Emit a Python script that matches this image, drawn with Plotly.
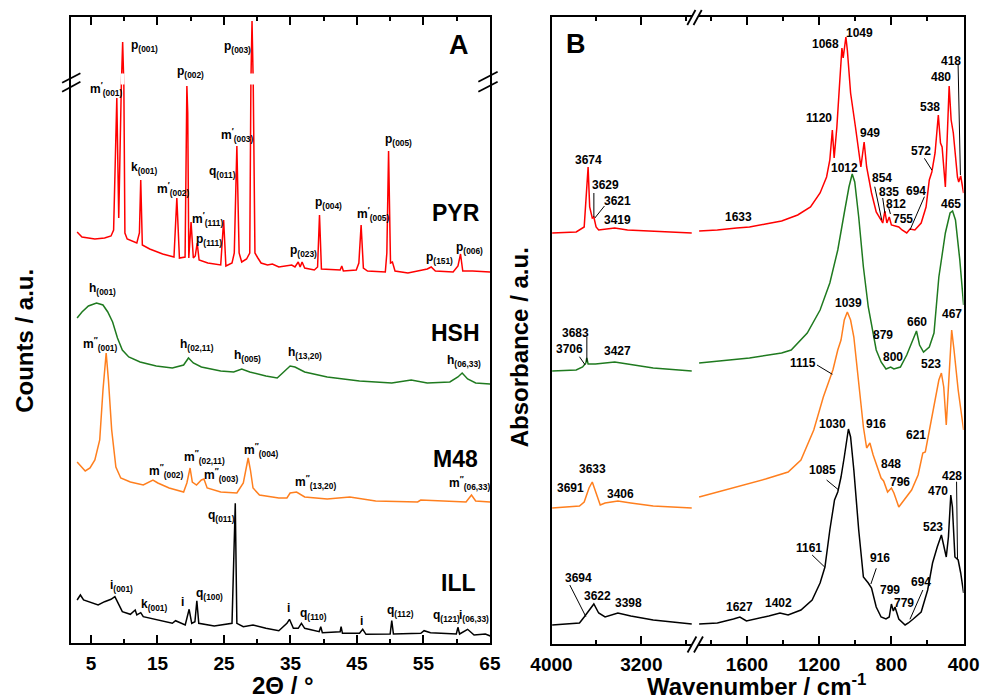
import plotly.graph_objects as go

# ---------------- DATA ----------------
# Panel A: XRD patterns (2theta in degrees, counts in a.u., stacked offsets included)
PYR_XRD = [(2.91, 411), (3.64, 406), (5.58, 404), (7.04, 405), (8.01, 407), (8.40, 413), (8.88, 545),
           (9.17, 425), (9.56, 557), (9.76, 601), (9.94, 557), (10.10, 410), (10.44, 404), (11.89, 400),
           (12.28, 410), (12.48, 463), (12.72, 398), (13.83, 394), (15.78, 389), (17.48, 386), (17.91, 445),
           (18.30, 385), (19.15, 386), (19.32, 530), (19.42, 557), (19.55, 530), (19.71, 385), (20.05, 421),
           (20.39, 385), (20.68, 387), (20.97, 400), (21.26, 383), (22.57, 380), (24.51, 378), (24.95, 423),
           (25.29, 377), (26.21, 380), (26.55, 390), (26.94, 497), (27.28, 390), (27.67, 381), (28.40, 384),
           (28.88, 390), (29.05, 560), (29.22, 622), (29.40, 560), (29.66, 390), (30.10, 385), (30.58, 380),
           (31.55, 378), (32.28, 379), (33.25, 376), (35.19, 378), (35.68, 376), (36.17, 381), (36.46, 376),
           (36.75, 381), (37.14, 375), (38.59, 373), (39.08, 376), (39.37, 428), (39.66, 374), (42.48, 373),
           (42.72, 377), (42.96, 372), (44.90, 373), (45.29, 380), (45.63, 418), (45.97, 375), (46.60, 372),
           (49.27, 371), (49.50, 390), (49.76, 492), (50.05, 380), (50.34, 381), (50.73, 372), (52.67, 370),
           (55.58, 374), (56.17, 376), (56.80, 372), (59.47, 371), (60.20, 377), (60.58, 389), (60.92, 372),
           (62.38, 372), (65.05, 371)]
HSH_XRD = [(2.91, 325), (3.64, 331), (4.61, 337), (5.83, 340), (6.80, 338), (7.52, 331), (8.25, 321),
           (8.98, 305), (9.71, 293), (10.68, 286), (12.38, 281), (14.81, 277), (17.23, 275), (18.93, 278),
           (19.66, 285), (20.39, 280), (21.60, 276), (24.51, 272), (26.46, 271), (27.67, 274), (28.88, 271),
           (31.31, 267), (33.01, 265), (33.98, 271), (34.95, 277), (35.68, 276), (37.14, 271), (40.53, 266),
           (45.39, 262), (50.24, 260), (53.16, 263), (55.58, 260), (58.98, 261), (60.19, 266), (60.83, 270),
           (61.65, 264), (62.86, 260), (65.05, 259)]
M48_XRD = [(2.91, 181), (3.64, 176), (4.13, 172), (4.85, 175), (5.58, 183), (6.31, 203), (6.80, 253),
           (7.28, 290), (7.62, 263), (8.11, 213), (8.74, 176), (9.47, 165), (10.92, 161), (12.86, 158),
           (13.83, 161), (14.32, 163), (15.05, 160), (16.75, 155), (18.93, 151), (19.42, 160), (19.90, 175),
           (20.24, 161), (20.87, 158), (21.60, 163), (21.99, 164), (22.47, 155), (24.51, 151), (26.94, 150),
           (27.91, 160), (28.25, 173), (28.64, 185), (28.98, 173), (29.37, 155), (30.34, 148), (33.25, 145),
           (34.47, 145), (34.95, 150), (35.92, 151), (37.14, 146), (40.53, 144), (43.93, 146), (47.82, 142),
           (54.13, 141), (54.60, 143), (61.41, 141), (62.23, 148), (62.86, 142), (65.05, 141)]
ILL_XRD = [(2.91, 43), (3.40, 48), (3.88, 43), (4.61, 41.3), (6.07, 38), (7.04, 41.3), (8.01, 43.7),
           (8.59, 46.3), (8.98, 41.3), (9.71, 31.3), (10.92, 28.7), (11.65, 33), (11.89, 28), (12.48, 30.3),
           (12.86, 26.3), (15.29, 23), (17.23, 19.7), (17.72, 22.3), (19.17, 18), (19.76, 33.7), (20.15, 19.7),
           (20.63, 21.3), (20.92, 42.3), (21.21, 19.7), (23.54, 17), (26.21, 19.7), (26.70, 139.7), (26.94, 19.7),
           (27.91, 16.3), (29.37, 18), (31.31, 14.7), (33.25, 12.3), (34.47, 19.7), (34.85, 23.7), (35.44, 14.7),
           (36.17, 14.7), (36.65, 19.7), (37.14, 14.7), (39.32, 11.3), (39.56, 16.3), (39.80, 10.3), (42.48, 11.3),
           (42.62, 16.3), (42.82, 9.7), (45.39, 9.7), (45.87, 13.7), (46.36, 8.7), (50.00, 9), (50.24, 22.3),
           (50.49, 9), (54.61, 9.7), (55.10, 12.3), (56.07, 10.3), (59.95, 9), (60.19, 15.7), (60.44, 9),
           (61.65, 13.7), (62.62, 8), (64.32, 9), (65.05, 7)]

# Panel B: IR spectra (wavenumber in cm-1, absorbance in a.u., stacked offsets included)
PYR_IR = [(3994, 411), (3780, 412), (3709, 417), (3689, 457), (3674, 477), (3660, 437), (3637, 426),
          (3623, 427), (3603, 417), (3580, 414), (3437, 416), (3323, 414), (3094, 413), (2751, 411),
          (1865, 413), (1764, 414), (1657, 416), (1586, 417), (1497, 420), (1408, 423), (1319, 429),
          (1248, 437), (1195, 451), (1159, 467), (1141, 484), (1127, 514), (1117, 486), (1102, 517),
          (1088, 557), (1074, 596), (1067, 586), (1052, 607), (1044, 594), (1026, 551), (999, 517),
          (969, 477), (951, 502), (937, 477), (910, 451), (884, 432), (857, 424), (848, 421), (836, 433),
          (825, 421), (812, 427), (800, 419), (759, 417), (741, 414), (715, 411), (697, 415), (670, 414),
          (635, 421), (608, 437), (590, 464), (576, 472), (558, 491), (540, 529), (528, 501), (519, 497),
          (501, 457), (480, 558), (469, 524), (457, 511), (434, 467), (427, 462), (416, 468), (400, 451)]
HSH_IR = [(3994, 273), (3780, 274), (3723, 277), (3694, 281), (3686, 286), (3674, 280), (3609, 280),
          (3437, 282), (3323, 280), (3094, 276), (2751, 273),
          (1865, 281), (1586, 286), (1408, 291), (1355, 294), (1266, 311), (1195, 334), (1141, 361),
          (1097, 394), (1061, 431), (1035, 457), (1017, 470), (1003, 462), (981, 427), (955, 377),
          (928, 337), (901, 309), (884, 294), (857, 282), (830, 275), (804, 277), (786, 275), (750, 277),
          (715, 289), (688, 301), (661, 313), (644, 299), (622, 292), (590, 297), (564, 311), (537, 367),
          (501, 411), (475, 431), (461, 433), (445, 424), (421, 384), (400, 339)]
M48_IR = [(3994, 136), (3751, 138), (3709, 142), (3666, 156), (3637, 162), (3609, 152), (3566, 139),
          (3523, 141), (3409, 143), (3294, 141), (3094, 138), (2751, 136),
          (1865, 147), (1675, 156), (1497, 165), (1372, 172), (1301, 184), (1230, 214), (1177, 247),
          (1124, 274), (1097, 294), (1079, 304), (1061, 324), (1044, 332), (1026, 324), (1008, 307),
          (981, 264), (955, 217), (937, 196), (919, 201), (901, 189), (875, 174), (857, 166), (843, 163),
          (821, 152), (800, 156), (786, 151), (759, 137), (724, 146), (688, 154), (652, 169), (626, 191),
          (612, 192), (590, 214), (564, 237), (537, 264), (523, 271), (510, 257), (496, 219), (484, 261),
          (475, 297), (466, 314), (453, 294), (430, 254), (400, 214)]
ILL_IR = [(3994, 19), (3751, 21), (3709, 27), (3666, 33), (3623, 40), (3580, 31), (3523, 27), (3409, 31),
          (3294, 28), (3094, 24), (2751, 20),
          (1865, 20), (1764, 21), (1675, 25), (1639, 27), (1603, 23), (1550, 25), (1479, 28), (1417, 31),
          (1399, 30), (1372, 29), (1301, 34), (1239, 44), (1195, 61), (1168, 77), (1141, 114), (1115, 144),
          (1097, 152), (1079, 167), (1061, 187), (1038, 215), (1026, 207), (1008, 174), (981, 114),
          (955, 67), (928, 61), (910, 56), (884, 37), (857, 27), (830, 25), (812, 27), (800, 40), (789, 33),
          (780, 37), (759, 25), (724, 19), (706, 21), (679, 25), (635, 32), (599, 54), (572, 81), (546, 97),
          (523, 109), (496, 87), (484, 107), (471, 149), (462, 137), (448, 87), (430, 84), (416, 71),
          (400, 51)]

XRD_TICKS = [5, 15, 25, 35, 45, 55, 65]
XRD_MINOR = [10, 20, 30, 40, 50, 60]
IR_TICKS_HIGH = [4000, 3200]
IR_MINOR_HIGH = [3600, 2800]
IR_TICKS_LOW = [1600, 1200, 800, 400]
IR_MINOR_LOW = [1800, 1400, 1000, 600]

SAMPLES = ["PYR", "HSH", "M48", "ILL"]

# ---------------- STYLE / LAYOUT ----------------
W, H = 995, 699
FONT = "Liberation Sans, Arial, sans-serif"
COLORS = {"PYR": "#ff0000", "HSH": "#1f7a1f", "M48": "#ff7f1e", "ILL": "#000000"}


def PX(x):
    return x / W


def PY(y):
    return 1 - y / H


fig = go.Figure()

xrd = {"PYR": PYR_XRD, "HSH": HSH_XRD, "M48": M48_XRD, "ILL": ILL_XRD}
ir = {"PYR": PYR_IR, "HSH": HSH_IR, "M48": M48_IR, "ILL": ILL_IR}

for s in SAMPLES:
    d = xrd[s]
    fig.add_trace(go.Scatter(x=[p[0] for p in d], y=[p[1] for p in d], mode="lines",
                             line=dict(color=COLORS[s], width=1.5), xaxis="x", yaxis="y", name=s))
for s in SAMPLES:
    d = ir[s]
    hi = [p for p in d if p[0] > 2000]
    lo = [p for p in d if p[0] < 2000]
    fig.add_trace(go.Scatter(x=[p[0] for p in hi], y=[p[1] for p in hi], mode="lines",
                             line=dict(color=COLORS[s], width=1.5), xaxis="x2", yaxis="y2", name=s))
    fig.add_trace(go.Scatter(x=[p[0] for p in lo], y=[p[1] for p in lo], mode="lines",
                             line=dict(color=COLORS[s], width=1.5), xaxis="x3", yaxis="y3", name=s))

tickfont = dict(family=FONT, size=19, color="black", weight="bold")


def xax(domain, rng, anchor, tv, mv):
    return dict(domain=domain, range=rng, anchor=anchor, showline=True, linewidth=2, linecolor="black",
                mirror="ticks", ticks="inside", ticklen=8, tickwidth=2, tickcolor="black",
                tickvals=tv, ticktext=[str(v) for v in tv], tickfont=tickfont,
                minor=dict(tickvals=mv, ticks="inside", ticklen=4, tickwidth=2, tickcolor="black"),
                showgrid=False, zeroline=False, ticklabelstandoff=2)


def yax(domain, rng, anchor, side="left", mirror=False):
    return dict(domain=domain, range=rng, anchor=anchor, side=side, showline=True, linewidth=2,
                linecolor="black", mirror=mirror, ticks="", showticklabels=False, showgrid=False,
                zeroline=False)


fig.update_layout(
    width=W, height=H, margin=dict(l=0, r=0, t=0, b=0), showlegend=False,
    paper_bgcolor="white", plot_bgcolor="white",
    xaxis=xax([PX(52), PX(487)], [2, 65], "y", XRD_TICKS, XRD_MINOR),
    yaxis=yax([PY(643), PY(17)], [0, 626], "x", mirror=True),
    xaxis2=xax([PX(551), PX(697)], [4000, 2748], "y2", IR_TICKS_HIGH, IR_MINOR_HIGH),
    yaxis2=yax([PY(644), PY(17)], [0, 627], "x2"),
    xaxis3=xax([PX(703), PX(979)], [1872, 400], "y3", IR_TICKS_LOW, IR_MINOR_LOW),
    yaxis3=yax([PY(644), PY(17)], [0, 627], "x3", side="right"),
)

annotations = []


def ann(text, x, y, size, xanchor="center", yanchor="middle", angle=0):
    annotations.append(dict(text=text, x=PX(x), y=PY(y), xref="paper", yref="paper", showarrow=False,
                            xanchor=xanchor, yanchor=yanchor, textangle=angle,
                            font=dict(family=FONT, size=size, color="black", weight="bold")))


# axis titles & panel letters
ann("Counts / a.u.", 4, 341, 24, angle=-90)
ann("Absorbance / a.u.", 518, 347.5, 24, angle=-90)
ann("2Θ / °", 272.5, 685.5, 24)
ann("Wavenumber / cm<sup>-1</sup>", 764, 685, 24)
ann("A", 455, 45, 27)
ann("B", 576, 44, 27)

# sample names
for name, x, y in [("PYR", 451.7, 213.3), ("HSH", 451.7, 333.3), ("M48", 451.7, 459.3), ("ILL", 454, 582.7)]:
    ann(name, x, y, 23)

P1 = "<sup>′</sup>"
P2 = "<sup>″</sup>"
A_LABELS = [
    ("p<sub>(001)</sub>", 111.7, 43), ("m" + P1 + "<sub>(001)</sub>", 70, 86),
    ("p<sub>(002)</sub>", 160, 69.3), ("p<sub>(003)</sub>", 209, 44.3),
    ("m" + P1 + "<sub>(003)</sub>", 206, 131.7), ("q<sub>(011)</sub>", 193.3, 169),
    ("k<sub>(001)</sub>", 111.7, 165), ("m" + P1 + "<sub>(002)</sub>", 139.3, 185.7),
    ("m" + P1 + "<sub>(111)</sub>", 175.7, 216), ("p<sub>(111)</sub>", 179.3, 236.7),
    ("p<sub>(005)</sub>", 375.7, 137.3), ("p<sub>(004)</sub>", 303.3, 200),
    ("m" + P1 + "<sub>(005)</sub>", 346.7, 211), ("p<sub>(023)</sub>", 277.7, 248.3),
    ("p<sub>(151)</sub>", 418.3, 255), ("p<sub>(006)</sub>", 450, 245),
    ("h<sub>(001)</sub>", 68.3, 285.7), ("m" + P2 + "<sub>(001)</sub>", 62.7, 341),
    ("h<sub>(02,11)</sub>", 162.7, 341.7), ("h<sub>(005)</sub>", 219.3, 353.3),
    ("h<sub>(13,20)</sub>", 275.7, 350), ("h<sub>(06,33)</sub>", 440.7, 358.3),
    ("m" + P2 + "<sub>(002)</sub>", 130.7, 468.3), ("m" + P2 + "<sub>(02,11)</sub>", 166.7, 454),
    ("m" + P2 + "<sub>(003)</sub>", 187.7, 472.3), ("m" + P2 + "<sub>(004)</sub>", 230, 446.7),
    ("m" + P2 + "<sub>(13,20)</sub>", 282.3, 479), ("m" + P2 + "<sub>(06,33)</sub>", 442, 480),
    ("q<sub>(011)</sub>", 191.7, 513.3), ("i<sub>(001)</sub>", 90.7, 583.3),
    ("k<sub>(001)</sub>", 122.7, 601.7), ("q<sub>(100)</sub>", 180, 590.7),
    ("q<sub>(110)</sub>", 287.3, 611), ("q<sub>(112)</sub>", 378.3, 608.3),
    ("q<sub>(121)</sub>", 426, 613.3), ("i<sub>(06,33)</sub>", 453, 613.3),
]
for t, x, y in A_LABELS:
    ann(t, x, y + 3, 12, xanchor="left")
for x, y in [(167.3, 601.7), (277.7, 608.3), (353.3, 620.7)]:
    ann("i", x, y, 12)

B_LABELS = [
    ("3674", 589, 160), ("3629", 606.7, 185), ("3621", 620, 201), ("3419", 620, 220), ("1633", 745, 217),
    ("1120", 829.3, 118.3), ("1068", 836, 44.3), ("1049", 871, 33.3), ("949", 882.3, 132.7),
    ("1012", 855.7, 168.3), ("854", 894.3, 178.3), ("835", 901.7, 191.7), ("812", 908.3, 204.3),
    ("755", 916, 219), ("694", 930, 190.7), ("572", 935, 151), ("538", 944.3, 106.7), ("480", 956, 76.7),
    ("418", 966, 60.7), ("465", 965.7, 204), ("1039", 859, 302.7), ("879", 895.7, 335), ("660", 930.7, 321.7),
    ("467", 966.7, 314.3), ("3683", 575.7, 333.3), ("3706", 570, 349), ("3427", 620, 351),
    ("800", 905.7, 357.3), ("1115", 811.7, 362.7), ("523", 945, 364.3), ("1030", 843.3, 424),
    ("916", 888.3, 424), ("621", 929.3, 435), ("3633", 593.3, 469.3), ("3691", 571, 488.3),
    ("3406", 622.7, 494), ("848", 903.3, 464), ("796", 913.3, 481.7), ("1085", 832.7, 470),
    ("428", 966.7, 475.7), ("470", 952.7, 491), ("523", 947.7, 526.7), ("1161", 818.3, 548.3),
    ("916", 891.7, 558.3), ("799", 902.3, 590), ("779", 916.7, 602.7), ("694", 934.3, 581.7),
    ("3694", 579.3, 578.3), ("3622", 598.3, 595.7), ("3398", 631, 603.3), ("1627", 746.7, 607.3),
    ("1402", 786.7, 602.7),
]
for t, x, y in B_LABELS:
    ann(t, x, y, 12)

shapes = []


def seg(x0, y0, x1, y1, w=1.0):
    shapes.append(dict(type="line", xref="paper", yref="paper", x0=PX(x0), y0=PY(y0), x1=PX(x1), y1=PY(y1),
                       line=dict(color="black", width=w), layer="above"))


# leader lines in panel B
for l in [(595, 193, 595, 217), (606, 206, 596, 218), (886.7, 186.7, 894, 220), (895, 198, 897.3, 213.3),
          (901, 207, 903, 214), (938.3, 196.7, 923.3, 230), (938.3, 158.3, 946, 170),
          (973.3, 65, 975.7, 175), (587.7, 337, 587.7, 361.7), (580, 356.7, 586, 365),
          (826.7, 365, 842.7, 374.3), (836.7, 480, 849.3, 490), (971.7, 481.7, 972.7, 560),
          (821.7, 555, 835, 567.3), (888.3, 568.3, 882.7, 584), (936.7, 590, 923.3, 619.3),
          (570, 585, 586.7, 616.7)]:
    seg(*l)

# axis break marks
for l in [(42.7, 82.7, 61.7, 73.3), (42.7, 91.7, 61.7, 81.7), (475, 81.7, 495, 71.7), (475, 91.7, 495, 81.7),
          (692, 25, 700.5, 10), (698.5, 25, 707, 10), (692.3, 652.5, 701.5, 636.5), (699, 652.5, 708.3, 636.5)]:
    seg(*l, w=1.8)

# gap in the two tallest PYR reflections (y-axis break)
for x0, x1 in [(9.45, 10.05), (28.9, 29.55)]:
    shapes.append(dict(type="rect", xref="x", yref="y", x0=x0, x1=x1, y0=558.5, y1=569.5,
                       fillcolor="white", line=dict(width=0), layer="above"))

fig.update_layout(annotations=annotations, shapes=shapes)
fig.write_html("out.html")
